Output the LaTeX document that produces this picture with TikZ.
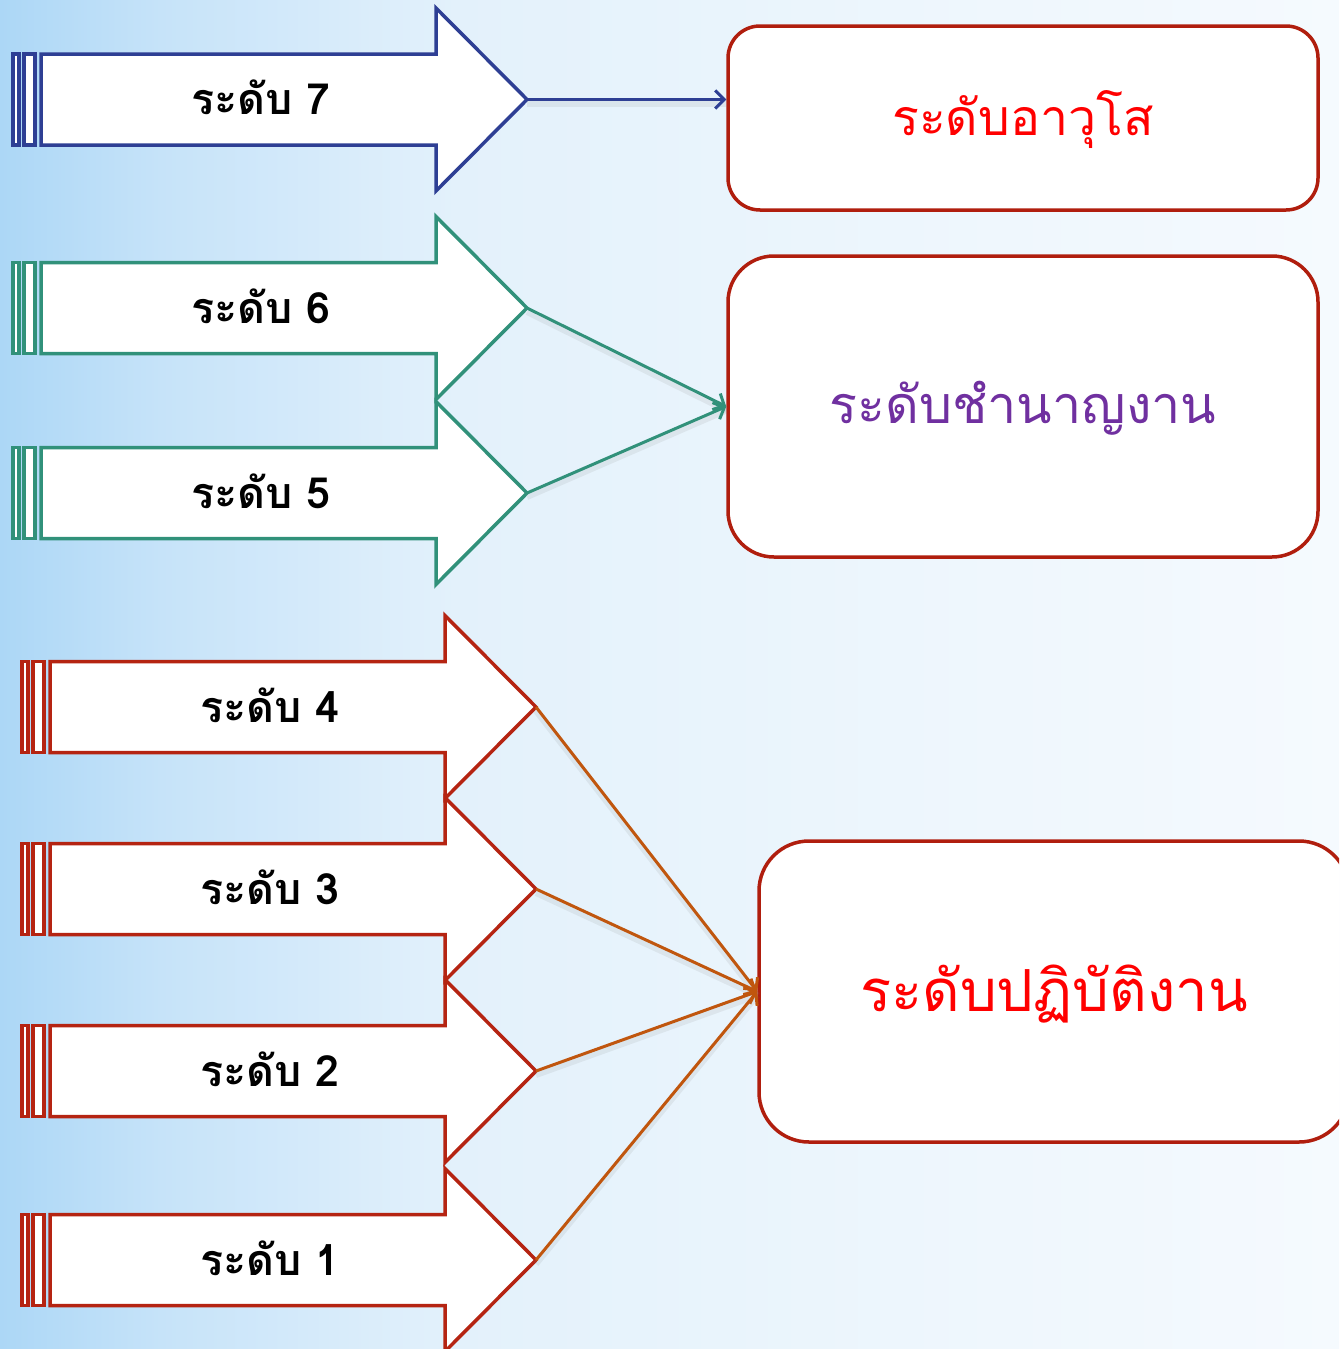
\documentclass[tikz,border=0pt]{standalone}
\usepackage{fontspec}
\newfontfamily\thaifont[Script=Thai]{Loma}
\usetikzlibrary{arrows.meta}
\definecolor{navyarr}{HTML}{2E3F94}
\definecolor{tealarr}{HTML}{31917A}
\definecolor{redarr}{HTML}{B52412}
\definecolor{orangeln}{HTML}{C0560E}
\definecolor{boxred}{HTML}{B01E0E}
\definecolor{txtred}{HTML}{FF0000}
\definecolor{txtpurple}{HTML}{7030A0}
\definecolor{bgL}{HTML}{ACD7F6}
\definecolor{bgA}{HTML}{C6E3F9}
\definecolor{bgM}{HTML}{E3F1FB}
\definecolor{bgR}{HTML}{F5FAFE}
\pgfdeclarehorizontalshading{bgshade}{100bp}{color(0bp)=(bgL); color(25bp)=(bgL); color(31bp)=(bgA); color(42bp)=(bgM); color(60bp)=(bgR!60!bgM); color(75bp)=(bgR); color(100bp)=(bgR)}
\newcommand{\lvlarrow}[5]{%
  \begin{scope}[draw=#4, line width=3.5pt, fill=white]
    \filldraw (#2,#3-45.5) rectangle (#2+6,#3+45.5);
    \filldraw (#2+11,#3-45.5) rectangle (#2+22,#3+45.5);
    \filldraw (#2+28,#3-45.5) -- (#2+423,#3-45.5) -- (#2+423,#3-91.5)
      -- (#2+514,#3) -- (#2+423,#3+91.5) -- (#2+423,#3+45.5) -- (#2+28,#3+45.5) -- cycle;
  \end{scope}
  \coordinate (#1tip) at (#2+514,#3);
  \node[lbl] (#1) at (#2+248,#3) {#5};
}
\begin{document}
\begin{tikzpicture}[x=1pt,y=-1pt,
  lbl/.style={font=\thaifont\bfseries\fontsize{43}{50}\selectfont, text=black, text height=30pt, text depth=0pt, inner sep=0pt},
  levelbox/.style={draw=boxred, line width=3.5pt, fill=white, minimum width=590pt, inner sep=0pt, text height=34pt, text depth=0pt},
  conn/.style={line width=3pt, -{Straight Barb[length=9pt,width=18pt,line width=3pt]},
    preaction={draw=black!50, opacity=0.12, line width=6pt, transform canvas={yshift=-4pt}, -}},
]
\useasboundingbox (0,0) rectangle (1339,1349);
\clip (0,0) rectangle (1339,1349);
\shade[shading=bgshade] (0,0) rectangle (1339,1349);

% arrows
\lvlarrow{a7}{13}{99.5}{navyarr}{ระดับ 7}
\lvlarrow{a6}{13}{308}{tealarr}{ระดับ 6}
\lvlarrow{a5}{13}{493}{tealarr}{ระดับ 5}
\lvlarrow{a4}{22}{707}{redarr}{ระดับ 4}
\lvlarrow{a3}{22}{889}{redarr}{ระดับ 3}
\lvlarrow{a2}{22}{1071}{redarr}{ระดับ 2}
\lvlarrow{a1}{22}{1260}{redarr}{ระดับ 1}

% boxes
\node[levelbox, minimum height=184pt, rounded corners=32pt, text=txtred,
  font=\thaifont\fontsize{50}{56}\selectfont] (b1) at (1023,118) {ระดับอาวุโส};
\node[levelbox, minimum height=301pt, rounded corners=46pt, text=txtpurple,
  font=\thaifont\fontsize{52}{58}\selectfont] (b2) at (1023,406.5) {ระดับชำนาญงาน};
\node[levelbox, minimum height=301pt, rounded corners=50pt, text=txtred,
  font=\thaifont\fontsize{58}{64}\selectfont, text height=40pt] (b3) at (1054,991.5) {ระดับปฏิบัติงาน};

% connectors
\draw[conn, navyarr] (a7tip) -- (a7tip -| b1.west);
\draw[conn, tealarr] (a6tip) -- (b2.west);
\draw[conn, tealarr] (a5tip) -- (b2.west);
\draw[conn, orangeln] (a4tip) -- (b3.west);
\draw[conn, orangeln] (a3tip) -- (b3.west);
\draw[conn, orangeln] (a2tip) -- (b3.west);
\draw[conn, orangeln] (a1tip) -- (b3.west);
\end{tikzpicture}
\end{document}
